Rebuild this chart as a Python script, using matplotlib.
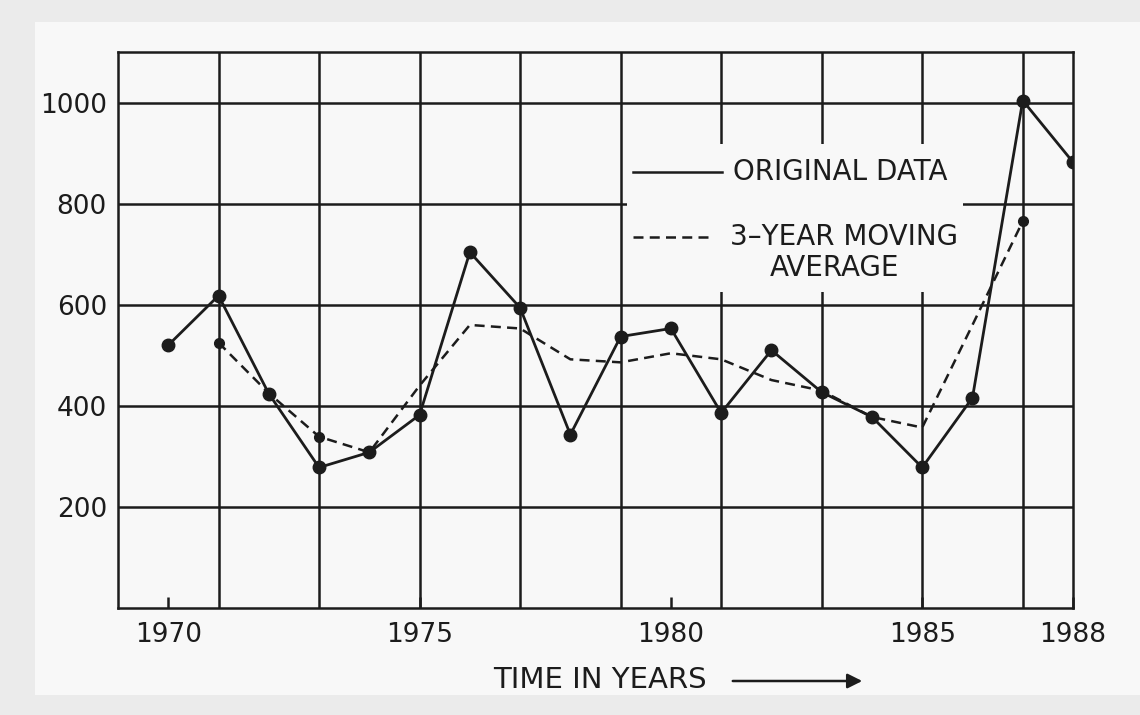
# Moving average chart, recreated from a scanned figure
import numpy as np
import matplotlib
matplotlib.use("Agg")
import matplotlib.pyplot as plt
from matplotlib.patches import Rectangle, FancyArrowPatch

# Data
years = np.arange(1970, 1989)
original = [520, 618, 424, 278, 308, 382, 704, 594, 343, 537,
            553, 386, 510, 427, 378, 278, 416, 1004, 882]
ma_years = np.arange(1971, 1988)
moving_avg = [525, 425, 339, 308, 440, 560, 553, 492, 486, 504,
              492, 451, 430, 378, 357, 560, 765]
year_ticks = [1970, 1975, 1980, 1985, 1988]
grid_years = np.arange(1971, 1988, 2)
value_ticks = [200, 400, 600, 800, 1000]

ink = "#1c1c1c"
paper = "#f8f8f8"
plt.rcParams["font.family"] = "DejaVu Sans"

fig = plt.figure(figsize=(11.4, 7.15), dpi=100, facecolor="#ebebeb")
# scanned page
fig.add_artist(Rectangle((35 / 1140, 1 - 695 / 715), 1, 695 / 715 - 22 / 715,
                         transform=fig.transFigure, facecolor=paper,
                         edgecolor="none", zorder=-10))

ax = fig.add_axes([118 / 1140, 1 - 608 / 715, 955 / 1140, 556 / 715])
ax.set_facecolor("none")
ax.set_xlim(1969, 1988)
ax.set_ylim(0, 1100)

# grid (minor x ticks must not be dropped where they meet 1975 / 1985)
ax.xaxis.remove_overlapping_locs = False
ax.set_xticks(grid_years, minor=True)
ax.set_xticks(year_ticks)
ax.set_xticklabels([str(y) for y in year_ticks], fontsize=19, color=ink)
ax.set_yticks(value_ticks)
ax.set_yticklabels([str(v) for v in value_ticks], fontsize=19, color=ink)
ax.grid(which="minor", axis="x", color=ink, lw=1.8)
ax.grid(which="major", axis="x", visible=False)
ax.grid(which="major", axis="y", color=ink, lw=1.8)
ax.tick_params(axis="x", which="major", direction="in", length=8, width=1.8,
               color=ink, pad=10)
ax.tick_params(axis="x", which="minor", length=0)
ax.tick_params(axis="y", length=0, pad=8)
for s in ax.spines.values():
    s.set_color(ink)
    s.set_linewidth(1.8)

# blank space behind the key
ax.add_patch(Rectangle((1979.12, 625), 6.7, 292, facecolor=paper,
                       edgecolor="none", zorder=2))

ax.plot(years, original, color=ink, lw=2.0, marker="o", markersize=9,
        zorder=4)
ax.plot(ma_years, moving_avg, color=ink, lw=1.8, linestyle=(0, (4, 2.5)),
        marker="o", markersize=7, markevery=[0, 2, 16], zorder=3)

# key
ax.plot([0.539, 0.632], [0.784, 0.784], color=ink, lw=1.8,
        transform=ax.transAxes, zorder=5)
ax.text(0.644, 0.784, "ORIGINAL DATA", transform=ax.transAxes, fontsize=20,
        color=ink, va="center", ha="left", zorder=5)
ax.plot([0.539, 0.620], [0.667, 0.667], color=ink, lw=1.8,
        linestyle=(0, (4, 2.5)), transform=ax.transAxes, zorder=5)
ax.text(0.641, 0.667, "3\u2013YEAR MOVING", transform=ax.transAxes,
        fontsize=20, color=ink, va="center", ha="left", zorder=5)
ax.text(0.750, 0.612, "AVERAGE", transform=ax.transAxes, fontsize=20,
        color=ink, va="center", ha="center", zorder=5)

# axis title with arrow
fig.text(493 / 1140, 1 - 680 / 715, "TIME IN YEARS", fontsize=21, color=ink,
         va="center", ha="left")
fig.add_artist(FancyArrowPatch((730 / 1140, 1 - 681 / 715), (865 / 1140, 1 - 681 / 715),
                               transform=fig.transFigure, arrowstyle="-|>",
                               color=ink, lw=1.8, mutation_scale=22))

fig.savefig("out.png", dpi=100, facecolor=fig.get_facecolor())
